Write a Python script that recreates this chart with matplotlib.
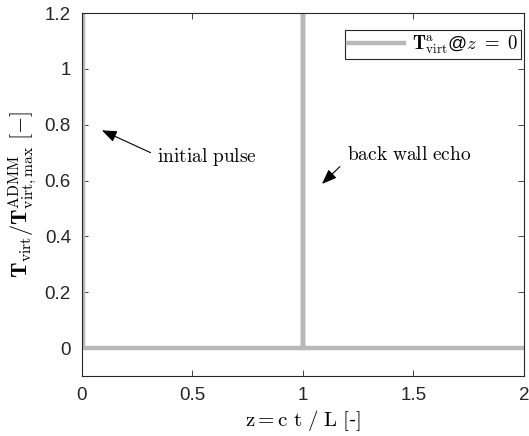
import numpy as np
import matplotlib
matplotlib.use('Agg')
import matplotlib.pyplot as plt

#==============================================================================
#DATA
#==============================================================================

z = [0.005, 0.005, 1.0, 1.0, 1.0, 2.0]
T = [1.5, 0.0, 0.0, 1.5, 0.0, 0.0]

xticks = [0, 0.5, 1, 1.5, 2]
xticklabels = ['0', '0.5', '1', '1.5', '2']
yticks = [0, 0.2, 0.4, 0.6, 0.8, 1.0, 1.2]
yticklabels = ['0', '0.2', '0.4', '0.6', '0.8', '1', '1.2']

#==============================================================================
#SETTINGS
#==============================================================================

plt.rcParams['font.family'] = ['Liberation Sans', 'DejaVu Sans']
plt.rcParams['mathtext.fontset'] = 'cm'
tick_font = 13.5
label_font = 15

#==============================================================================
#PLOT
#==============================================================================

f = plt.figure(figsize=(5.29, 4.36), dpi=100)
ax = f.add_axes([0.155, 0.1376, 0.8355, 0.8325])

ax.plot(z, T, color=(0.72, 0.72, 0.72), lw=3.2,
        label=r'$\mathbf{T}^{\rm a}_{\rm virt}$@$z\ =\ 0$')

ax.set_xlim(0, 2)
ax.set_ylim(-0.1, 1.2)
ax.set_xticks(xticks)
ax.set_xticklabels(xticklabels)
ax.set_yticks(yticks)
ax.set_yticklabels(yticklabels)
ax.tick_params(direction='in', length=4, width=0.6, top=True, right=True,
               labelsize=tick_font, colors='0.15', pad=8)
for s in ax.spines.values():
    s.set_linewidth(0.8)
    s.set_color('0.15')

ax.set_xlabel(r'$\mathrm{z = c\ t\ /\ L\ [}$-$\mathrm{]}$', fontsize=label_font, labelpad=3)
ax.set_ylabel(r'$\mathbf{T}_{\rm virt}/\mathbf{T}^{\rm ADMM}_{\rm virt,max}$ $\mathrm{[-]}$',
              fontsize=label_font + 1, labelpad=4)

arrow = dict(arrowstyle='-|>,head_length=0.9,head_width=0.35', color='k', lw=0.8,
             shrinkA=0, shrinkB=0)
ax.text(0.34, 0.685, r'$\mathrm{initial\ pulse}$', fontsize=14, va='center', ha='left')
ax.annotate('', xy=(0.09, 0.78), xytext=(0.31, 0.70), arrowprops=arrow)
ax.text(1.2, 0.69, r'$\mathrm{back\ wall\ echo}$', fontsize=14, va='center', ha='left')
ax.annotate('', xy=(1.086, 0.588), xytext=(1.167, 0.65), arrowprops=arrow)

leg = ax.legend(loc='upper right', bbox_to_anchor=(0.993, 0.952), fontsize=13.5,
                fancybox=False, framealpha=1, edgecolor='0.15', borderpad=0.15,
                handlelength=3.0, handletextpad=0.4, borderaxespad=0)
leg.get_frame().set_linewidth(0.8)

f.savefig('out.png', dpi=100)
